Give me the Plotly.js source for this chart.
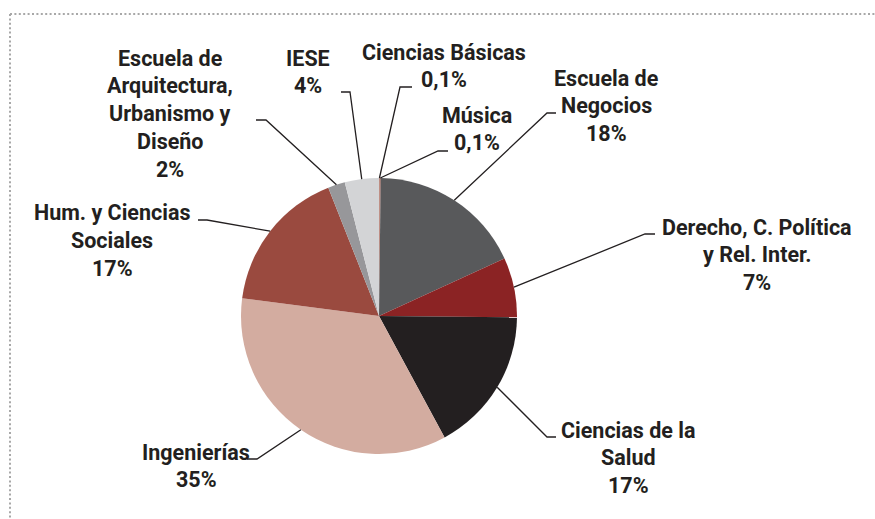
<!DOCTYPE html>
<html>
<head>
<meta charset="utf-8">
<script src="https://cdn.plot.ly/plotly-3.0.1.min.js"></script>
<style>html,body{margin:0;padding:0;background:#fff;}#chart{width:875px;height:519px;}</style>
</head>
<body>
<div id="chart"></div>
<script>
// ---- Data ----
const categories = [
  "Ciencias Básicas", "Música", "Escuela de Negocios",
  "Derecho, C. Política y Rel. Inter.", "Ciencias de la Salud",
  "Ingenierías", "Hum. y Ciencias Sociales",
  "Escuela de Arquitectura, Urbanismo y Diseño", "IESE"
];
const values = [0.1, 0.1, 18, 7, 17, 35, 17, 2, 4];
const pctLabels = ["0,1%", "0,1%", "18%", "7%", "17%", "35%", "17%", "2%", "4%"];
const labelLines = [
  ["Ciencias Básicas"],
  ["Música"],
  ["Escuela de", "Negocios"],
  ["Derecho, C. Política", "y Rel. Inter."],
  ["Ciencias de la", "Salud"],
  ["Ingenierías"],
  ["Hum. y Ciencias", "Sociales"],
  ["Escuela de", "Arquitectura,", "Urbanismo y", "Diseño"],
  ["IESE"]
];
const colors = ["#b98478", "#a05a4e", "#58595b", "#8b2324", "#231f20",
                "#d3aca0", "#9a4a3f", "#97979a", "#d3d4d6"];

// ---- Layout (pixel positions) ----
const W = 875, H = 519;
const CX = 379, CY = 316, R = 138;
const LH = 27.8;
// label text: center x, first line center y
const labelPos = [[444, 52], [477, 115], [606, 78], [757, 227], [628, 430],
                  [196, 452], [112, 213], [170, 58], [308, 58]];
// leader elbow point and horizontal end point
const elbow = [[400, 87], [438, 151], [547, 113], [645, 234], [547, 437],
               [257, 459], [207, 220], [266, 120], [350, 92]];
const hEnd = [[412, 87], [448, 151], [556, 113], [655, 234], [556, 437],
              [247, 459], [198, 220], [256, 120], [341, 92]];

const px = x => x / W;
const py = y => 1 - y / H;

const total = values.reduce((a, b) => a + b, 0);
let cum = 0;
const tips = values.map(v => {
  const th = 2 * Math.PI * (cum + v / 2) / total;
  cum += v;
  return [CX + R * Math.sin(th), CY - R * Math.cos(th)];
});

const font = {family: "Roboto, 'Open Sans', sans-serif", size: 21.5, color: "#231f20", weight: 700};

const annotations = [];
labelLines.forEach((lines, i) => {
  const all = lines.concat([pctLabels[i]]);
  all.forEach((t, j) => {
    annotations.push({
      xref: "paper", yref: "paper",
      x: px(labelPos[i][0]), y: py(labelPos[i][1] + j * LH),
      xanchor: "center", yanchor: "middle",
      text: t, showarrow: false, font: font
    });
  });
});

const shapes = [];
tips.forEach((tp, i) => {
  const e = elbow[i], h = hEnd[i];
  shapes.push({
    type: "path", xref: "paper", yref: "paper",
    path: `M ${px(h[0])} ${py(h[1])} L ${px(e[0])} ${py(e[1])} L ${px(tp[0])} ${py(tp[1])}`,
    line: {color: "#231f20", width: 1.3}, layer: "above"
  });
});
// dotted frame
shapes.push({type: "line", xref: "paper", yref: "paper", x0: px(10), y0: py(14), x1: 1, y1: py(14),
             line: {color: "#a8a8a8", width: 2, dash: "2px,2.4px"}});
shapes.push({type: "line", xref: "paper", yref: "paper", x0: px(10), y0: py(14), x1: px(10), y1: 0,
             line: {color: "#a8a8a8", width: 2, dash: "2px,2.4px"}});

const trace = {
  type: "pie",
  labels: categories,
  values: values,
  sort: false,
  direction: "clockwise",
  rotation: 0,
  textinfo: "none",
  hoverinfo: "label+percent",
  marker: {colors: colors, line: {width: 0}},
  domain: {x: [px(CX - R), px(CX + R)], y: [py(CY + R), py(CY - R)]},
  showlegend: false
};

const layout = {
  width: W, height: H,
  margin: {l: 0, r: 0, t: 0, b: 0},
  paper_bgcolor: "#ffffff",
  showlegend: false,
  annotations: annotations,
  shapes: shapes
};

Plotly.newPlot("chart", [trace], layout, {displayModeBar: false, staticPlot: true});
</script>
</body>
</html>
